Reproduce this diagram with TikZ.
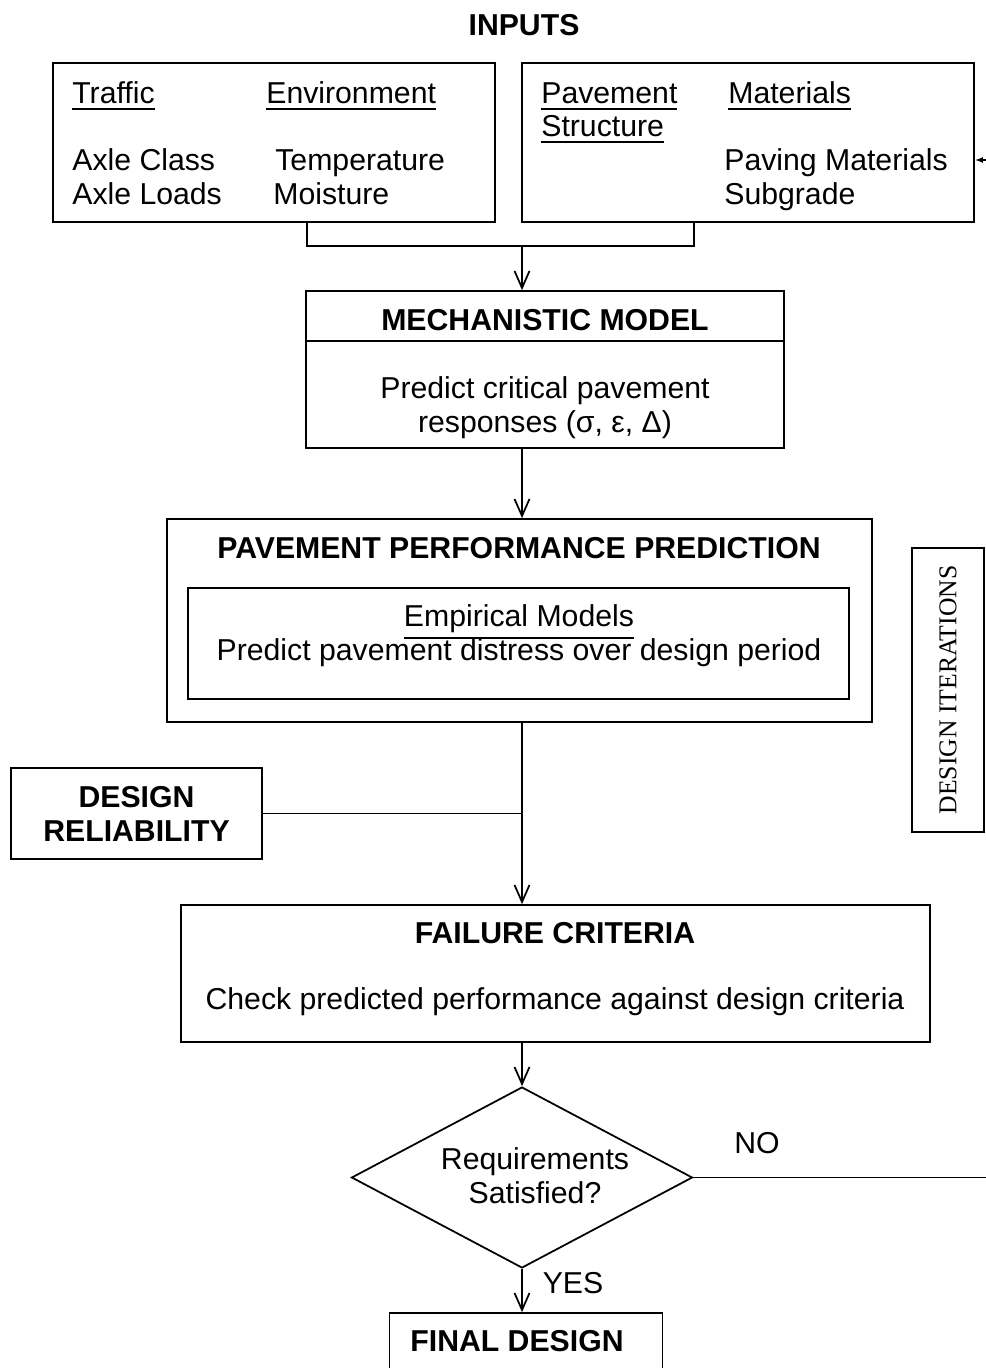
\documentclass[tikz,border=0pt]{standalone}
\usepackage{fontspec}
\setmainfont{Liberation Sans}
\newfontfamily\timesfam{Liberation Serif}
\usetikzlibrary{arrows.meta,positioning,shapes.geometric}
\newcommand{\ulin}[1]{\setbox0=\hbox{#1}\leavevmode\rlap{\raisebox{-\dimexpr\dp0+3.3pt\relax}{\rule{\wd0}{1.1pt}}}\box0}

\begin{document}
\begin{tikzpicture}[x=0.02cm,y=-0.02cm,
    every node/.style={font=\fontsize{17.2}{19.4}\selectfont},
    box/.style={draw,line width=1pt,inner sep=0pt},
    flow/.style={line width=1pt,-{Straight Barb[length=0.34cm,width=0.3cm]}},
    link/.style={line width=1pt},
    txt/.style={anchor=base west,inner sep=0pt},
    hd/.style={font=\fontsize{17.2}{19.4}\selectfont\bfseries,align=center}]
  \useasboundingbox (0,0) rectangle (986,1368);
  \clip (0,0) rectangle (986,1368);

  \node[hd] (inputs) at (524,25) {INPUTS};

  % input boxes
  \node[box,minimum width=8.84cm,minimum height=3.18cm] (lbox) at (274,142.5) {};
  \node[box,minimum width=9.04cm,minimum height=3.18cm] (rbox) at (748,142.5) {};

  \node[txt] (traffic) at (72,104) {\ulin{Traffic}};
  \node[txt] (envir) at (266,104) {\ulin{Environment}};
  \node[txt] (axcls) at (72,171) {Axle Class};
  \node[txt] (axlds) at (72,205) {Axle Loads};
  \node[txt] (temp) at (275,171) {Temperature};
  \node[txt] (moist) at (273,205) {Moisture};
  \node[txt] (pvmt) at (541,104) {\ulin{Pavement}};
  \node[txt] (struct) at (541,137) {\ulin{Structure}};
  \node[txt] (mater) at (728,104) {\ulin{Materials}};
  \node[txt] (paving) at (724,171) {Paving Materials};
  \node[txt] (subgr) at (724,205) {Subgrade};

  % mechanistic model
  \node[box,minimum width=9.56cm,minimum height=3.14cm] (mech) at (545,369.5) {};
  \draw[link] ([yshift=-1.02cm]mech.north west) -- ([yshift=-1.02cm]mech.north east);
  \node[hd] (mechhd) at (545,320) {MECHANISTIC MODEL};
  \node[align=center] (mechtx) at (545,408) {Predict critical pavement\\responses (σ, ε, Δ)};

  % performance prediction
  \node[box,minimum width=14.1cm,minimum height=4.06cm] (perf) at (519.5,620.5) {};
  \node[hd] (perfhd) at (519,548) {PAVEMENT PERFORMANCE PREDICTION};
  \node[box,minimum width=13.22cm,minimum height=2.22cm] (empir) at (518.5,643.5) {};
  \node[align=center] (emptx) at (519,636) {\ulin{Empirical Models}\\Predict pavement distress over design period};

  \node[box,hd,minimum width=5.02cm,minimum height=1.82cm] (rel) at (136.5,813.5) {DESIGN\\RELIABILITY};

  % failure criteria
  \node[box,minimum width=14.98cm,minimum height=2.74cm] (fail) at (555.5,973.5) {};
  \node[hd] (failhd) at (555,933) {FAILURE CRITERIA};
  \node (failtx) at (555,1002) {Check predicted performance against design criteria};

  \node[draw,line width=1pt,diamond,shape aspect=1.88,inner sep=0pt,
        minimum width=6.82cm,minimum height=3.62cm] (req) at (522,1177.5) {};
  \node[align=center] (reqtx) at (535,1176) {Requirements\\Satisfied?};

  \node[box,minimum width=5.46cm,minimum height=1.14cm] (final) at (526,1341.5) {};
  \node[hd] (finaltx) at (517,1341) {FINAL DESIGN};

  \node[draw,line width=1pt,rotate=90,minimum width=5.68cm,minimum height=1.44cm,
        font=\timesfam\fontsize{14.6}{17}\selectfont] (iter) at (948,690) {DESIGN ITERATIONS};

  \node (no) at (757,1143) {NO};
  \node (yes) at (573,1283) {YES};

  % connectors
  \coordinate (join) at (522,246);
  \coordinate (back) at (1010,160);
  \draw[link] ([xshift=0.66cm]lbox.south) |- (join) -| ([xshift=-1.08cm]rbox.south);
  \draw[flow] (join) -- (join |- mech.north);
  \draw[flow] (join |- mech.south) -- (join |- perf.north);
  \draw[flow] (join |- perf.south) -- (join |- fail.north);
  \draw[link] (rel.east) -- (rel.east -| join);
  \draw[flow] (join |- fail.south) -- (req.north);
  \draw[flow] (req.south) -- (req.south |- final.north);
  \draw[link,-{Latex[length=0.16cm,width=0.12cm]}] (req.east) -| (back) -- (back -| rbox.east);
\end{tikzpicture}
\end{document}
